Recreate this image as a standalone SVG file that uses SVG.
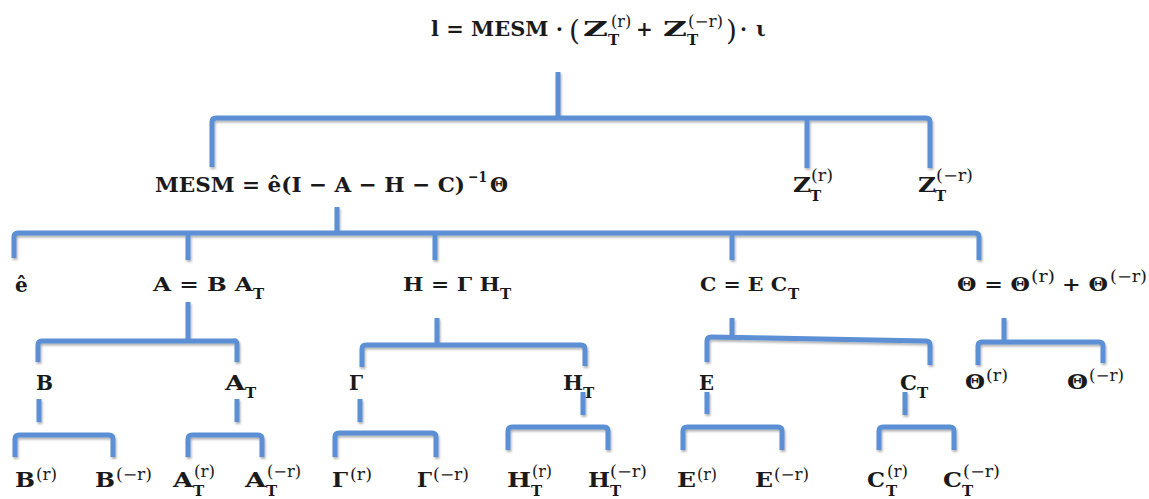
<svg xmlns="http://www.w3.org/2000/svg" width="1149" height="499" viewBox="0 0 1149 499">
<defs>
<filter id="sh" x="-5%" y="-20%" width="110%" height="160%">
<feDropShadow dx="1" dy="2" stdDeviation="1.2" flood-color="#000" flood-opacity="0.3"/>
</filter>
</defs>
<style>
.c{fill:none;stroke:#5b8fd4;stroke-width:5;stroke-linejoin:round;stroke-linecap:butt}
.t{font-family:"DejaVu Serif","Liberation Serif",serif;font-weight:bold;fill:#1a1a1a}
.f20{font-size:20px}.f21{font-size:21px}.f19{font-size:19px}
.s{font-size:15px}
.sp{font-size:16px;font-weight:normal}
.pa{font-size:28px;font-weight:normal}
</style>
<rect width="1149" height="499" fill="#fff"/>
<g id="connectors" filter="url(#sh)">
<path class="c" d="M558,72 V118"/>
<path class="c" d="M212,167 V122 Q212,118 216,118 H926 Q930,118 930,122 V168 M807,118 V168"/>
<path class="c" d="M337,207 V233"/>
<path class="c" d="M14,258 V237 Q14,233 18,233 H975 Q979,233 979,237 V260 M188,233 V260 M435,233 V260 M732,233 V260"/>
<path class="c" d="M188,302 V340"/>
<path class="c" d="M38,362 V345 Q38,341 42,341 H233 Q237,340 237,344 V362"/>
<path class="c" d="M437,318 V345"/>
<path class="c" d="M362,367 V349 Q362,345 366,345 H581 Q585,345 585,349 V366"/>
<path class="c" d="M732,318 V338"/>
<path class="c" d="M707,362 V341 Q707,337 711,337 L926,341 Q930,341 930,345 V365"/>
<path class="c" d="M1004,318 V342"/>
<path class="c" d="M978,365 V346 Q978,342 982,342 H1099 Q1103,342 1103,346 V363"/>
<path class="c" d="M39,399 V422"/>
<path class="c" d="M15,457 V439 Q15,435 19,435 H109 Q113,435 113,439 V457"/>
<path class="c" d="M237,399 V422"/>
<path class="c" d="M188,457 V439 Q188,435 192,435 H258 Q262,435 262,439 V457"/>
<path class="c" d="M360,399 V422"/>
<path class="c" d="M335,457 V437 Q335,433 339,433 H432 Q436,433 436,437 V457"/>
<path class="c" d="M583,392 V415"/>
<path class="c" d="M508,450 V431 Q508,427 512,427 H604 Q608,427 608,431 V450"/>
<path class="c" d="M707,392 V414"/>
<path class="c" d="M683,450 V431 Q683,427 687,427 H778 Q782,427 782,431 V450"/>
<path class="c" d="M905,392 V415"/>
<path class="c" d="M879,450 V431 Q879,427 883,427 H950 Q954,427 954,431 V450"/>
</g>
<g id="n-root"><text class="t f20"><tspan x="431" y="36" textLength="132" lengthAdjust="spacingAndGlyphs">l = MESM ·</tspan><tspan class="pa" x="569" y="40">(</tspan><tspan x="583" y="36" textLength="25" lengthAdjust="spacingAndGlyphs">Z</tspan><tspan class="s" x="608" y="45">T</tspan><tspan class="sp" x="611" y="27">(r)</tspan><tspan x="636" y="36">+</tspan><tspan x="663" y="36" textLength="24" lengthAdjust="spacingAndGlyphs">Z</tspan><tspan class="s" x="687" y="45">T</tspan><tspan class="sp" x="688" y="27" textLength="35" lengthAdjust="spacingAndGlyphs">(−r)</tspan><tspan class="pa" x="726" y="40">)</tspan><tspan x="740" y="36">·</tspan><tspan x="756" y="36">ι</tspan></text></g>
<g id="n-mesm"><text class="t f21"><tspan x="155" y="192" textLength="310" lengthAdjust="spacingAndGlyphs">MESM = ê(I − A − H − C)</tspan><tspan x="468" y="182" style="font-size:15px" textLength="19" lengthAdjust="spacingAndGlyphs">−1</tspan><tspan x="490" y="192" textLength="18" lengthAdjust="spacingAndGlyphs">Θ</tspan></text></g>
<g id="n-zr"><text class="t f21"><tspan x="793" y="192" textLength="18" lengthAdjust="spacingAndGlyphs">Z</tspan><tspan class="s" x="810" y="201">T</tspan><tspan class="sp" x="811" y="181" textLength="22" lengthAdjust="spacingAndGlyphs">(r)</tspan></text></g>
<g id="n-zmr"><text class="t f21"><tspan x="918" y="192" textLength="18" lengthAdjust="spacingAndGlyphs">Z</tspan><tspan class="s" x="935" y="201">T</tspan><tspan class="sp" x="936" y="181" textLength="37" lengthAdjust="spacingAndGlyphs">(−r)</tspan></text></g>
<g id="n-e"><text class="t f20" x="15" y="292">ê</text></g>
<g id="n-a"><text class="t f19"><tspan x="153" y="291" textLength="100" lengthAdjust="spacingAndGlyphs">A = B A</tspan><tspan class="s" x="253" y="299">T</tspan></text></g>
<g id="n-h"><text class="t f19"><tspan x="403" y="291" textLength="97" lengthAdjust="spacingAndGlyphs">H = Γ H</tspan><tspan class="s" x="500" y="299">T</tspan></text></g>
<g id="n-c"><text class="t f19"><tspan x="700" y="291" textLength="87" lengthAdjust="spacingAndGlyphs">C = E C</tspan><tspan class="s" x="788" y="299">T</tspan></text></g>
<g id="n-theta"><text class="t f19"><tspan x="957" y="291" textLength="73" lengthAdjust="spacingAndGlyphs">Θ = Θ</tspan><tspan class="sp" x="1031" y="282" textLength="24" lengthAdjust="spacingAndGlyphs">(r)</tspan><tspan x="1062" y="291" textLength="46" lengthAdjust="spacingAndGlyphs">+ Θ</tspan><tspan class="sp" x="1110" y="282" textLength="37" lengthAdjust="spacingAndGlyphs">(−r)</tspan></text></g>
<g id="n-b"><text class="t f21"><tspan x="36" y="390" textLength="17" lengthAdjust="spacingAndGlyphs">B</tspan></text></g>
<g id="n-at"><text class="t f21"><tspan x="225" y="390" textLength="20" lengthAdjust="spacingAndGlyphs">A</tspan><tspan class="s" x="245" y="398">T</tspan></text></g>
<g id="n-g"><text class="t f21"><tspan x="349" y="390" textLength="14" lengthAdjust="spacingAndGlyphs">Γ</tspan></text></g>
<g id="n-ht"><text class="t f21"><tspan x="563" y="390" textLength="20" lengthAdjust="spacingAndGlyphs">H</tspan><tspan class="s" x="583" y="398">T</tspan></text></g>
<g id="n-ee"><text class="t f21"><tspan x="699" y="390" textLength="15" lengthAdjust="spacingAndGlyphs">E</tspan></text></g>
<g id="n-ct"><text class="t f21"><tspan x="900" y="390" textLength="17" lengthAdjust="spacingAndGlyphs">C</tspan><tspan class="s" x="917" y="398">T</tspan></text></g>
<g id="n-thr"><text class="t f20"><tspan x="965" y="389" textLength="20" lengthAdjust="spacingAndGlyphs">Θ</tspan><tspan class="sp" x="986" y="381" textLength="22" lengthAdjust="spacingAndGlyphs">(r)</tspan></text></g>
<g id="n-thmr"><text class="t f20"><tspan x="1067" y="389" textLength="21" lengthAdjust="spacingAndGlyphs">Θ</tspan><tspan class="sp" x="1089" y="381" textLength="35" lengthAdjust="spacingAndGlyphs">(−r)</tspan></text></g>
<g id="n-br"><text class="t f20"><tspan x="15" y="487" textLength="20" lengthAdjust="spacingAndGlyphs">B</tspan><tspan class="sp" x="36" y="480" textLength="21" lengthAdjust="spacingAndGlyphs">(r)</tspan></text></g>
<g id="n-bmr"><text class="t f20"><tspan x="95" y="487" textLength="20" lengthAdjust="spacingAndGlyphs">B</tspan><tspan class="sp" x="116" y="480" textLength="36" lengthAdjust="spacingAndGlyphs">(−r)</tspan></text></g>
<g id="n-atr"><text class="t f20"><tspan x="173" y="487" textLength="20" lengthAdjust="spacingAndGlyphs">A</tspan><tspan class="s" x="193" y="496">T</tspan><tspan class="sp" x="194" y="477" textLength="21" lengthAdjust="spacingAndGlyphs">(r)</tspan></text></g>
<g id="n-atmr"><text class="t f20"><tspan x="245" y="487" textLength="21" lengthAdjust="spacingAndGlyphs">A</tspan><tspan class="s" x="266" y="496">T</tspan><tspan class="sp" x="267" y="477" textLength="34" lengthAdjust="spacingAndGlyphs">(−r)</tspan></text></g>
<g id="n-gr"><text class="t f20"><tspan x="332" y="487" textLength="16" lengthAdjust="spacingAndGlyphs">Γ</tspan><tspan class="sp" x="350" y="480" textLength="22" lengthAdjust="spacingAndGlyphs">(r)</tspan></text></g>
<g id="n-gmr"><text class="t f20"><tspan x="417" y="487" textLength="15" lengthAdjust="spacingAndGlyphs">Γ</tspan><tspan class="sp" x="433" y="480" textLength="36" lengthAdjust="spacingAndGlyphs">(−r)</tspan></text></g>
<g id="n-htr"><text class="t f20"><tspan x="507" y="487" textLength="24" lengthAdjust="spacingAndGlyphs">H</tspan><tspan class="s" x="531" y="496">T</tspan><tspan class="sp" x="532" y="477" textLength="20" lengthAdjust="spacingAndGlyphs">(r)</tspan></text></g>
<g id="n-htmr"><text class="t f20"><tspan x="588" y="487" textLength="22" lengthAdjust="spacingAndGlyphs">H</tspan><tspan class="s" x="610" y="496">T</tspan><tspan class="sp" x="610" y="477" textLength="37" lengthAdjust="spacingAndGlyphs">(−r)</tspan></text></g>
<g id="n-er"><text class="t f20"><tspan x="677" y="487" textLength="19" lengthAdjust="spacingAndGlyphs">E</tspan><tspan class="sp" x="697" y="480" textLength="20" lengthAdjust="spacingAndGlyphs">(r)</tspan></text></g>
<g id="n-emr"><text class="t f20"><tspan x="755" y="487" textLength="18" lengthAdjust="spacingAndGlyphs">E</tspan><tspan class="sp" x="774" y="480" textLength="35" lengthAdjust="spacingAndGlyphs">(−r)</tspan></text></g>
<g id="n-ctr"><text class="t f20"><tspan x="867" y="487" textLength="18" lengthAdjust="spacingAndGlyphs">C</tspan><tspan class="s" x="886" y="496">T</tspan><tspan class="sp" x="887" y="477" textLength="21" lengthAdjust="spacingAndGlyphs">(r)</tspan></text></g>
<g id="n-ctmr"><text class="t f20"><tspan x="943" y="487" textLength="19" lengthAdjust="spacingAndGlyphs">C</tspan><tspan class="s" x="962" y="496">T</tspan><tspan class="sp" x="963" y="477" textLength="37" lengthAdjust="spacingAndGlyphs">(−r)</tspan></text></g>
</svg>
